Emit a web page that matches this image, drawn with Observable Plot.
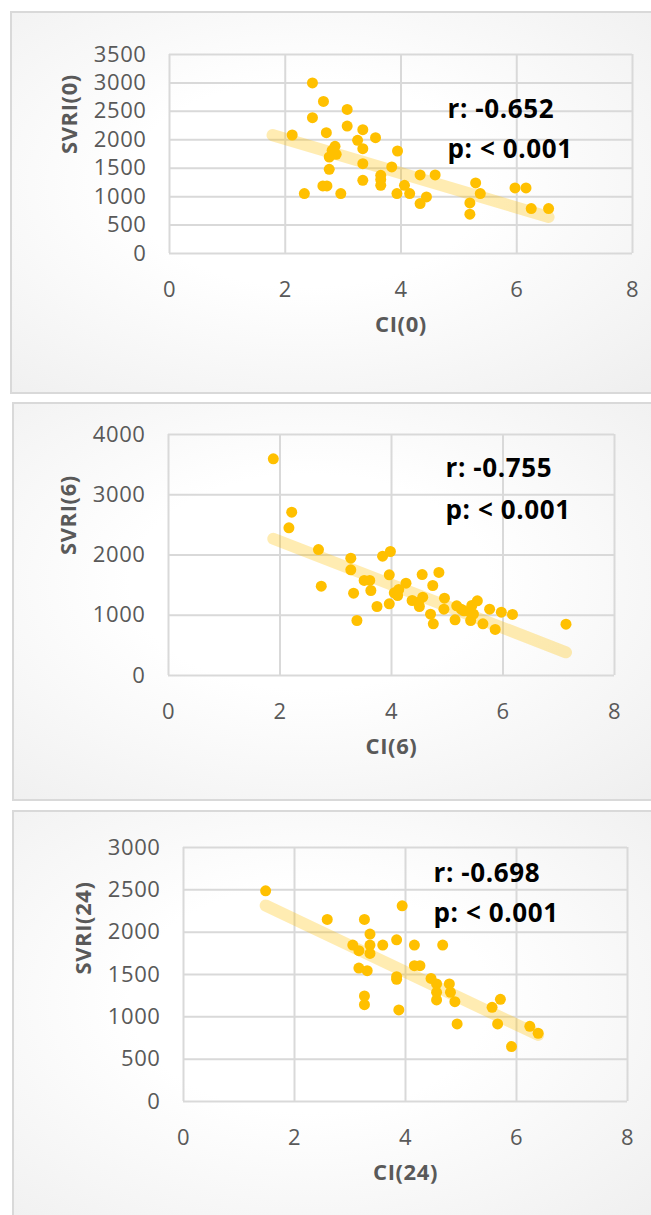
<!DOCTYPE html>
<html>
<head>
<meta charset="utf-8">
<script src="https://cdn.jsdelivr.net/npm/d3@7"></script>
<script src="https://cdn.jsdelivr.net/npm/@observablehq/plot@0.6"></script>
<style>
  html, body { margin: 0; padding: 0; background: #ffffff; }
  body { width: 651px; height: 1215px; overflow: hidden; position: relative; font-family: "Open Sans", sans-serif; }
  .panel { position: absolute; box-sizing: border-box; border: 2px solid #d9d9d9;
    background: radial-gradient(ellipse at 45% 45%, #ffffff 0%, #ffffff 35%, #eeeeee 100%); }
  .chart { position: absolute; left: 0; }
</style>
</head>
<body>
<div class="panel" style="left:10px;top:11px;width:660px;height:383px"></div>
<div class="panel" style="left:12px;top:402px;width:660px;height:399px"></div>
<div class="panel" style="left:12px;top:810px;width:660px;height:420px"></div>
<div id="c1" class="chart" style="top:11px"></div>
<div id="c2" class="chart" style="top:402px"></div>
<div id="c3" class="chart" style="top:810px"></div>
<script>
// ---- Data ----
const xTicks = [0, 2, 4, 6, 8];

// Panel 1: CI(0) vs SVRI(0)
const ci0 = [2.47,2.66,3.07,2.47,3.07,2.12,2.71,3.34,3.56,3.25,3.34,2.86,2.81,2.76,2.88,3.94,3.34,2.76,3.84,3.65,3.65,3.65,4.33,4.59,3.34,2.65,2.72,4.06,2.33,2.96,3.93,4.15,4.44,4.33,5.19,5.19,5.29,5.37,5.97,6.16,6.25,6.55];
const svri0 = [3000,2675,2534,2388,2242,2084,2125,2177,2037,1990,1844,1885,1814,1697,1744,1803,1580,1481,1522,1375,1300,1200,1381,1381,1288,1188,1188,1200,1054,1054,1054,1054,995,878,890,691,1241,1054,1153,1153,790,790];
const yTicks0 = [0,500,1000,1500,2000,2500,3000,3500];
const trend0X = [1.78, 6.55];
const trend0Y = [2082, 642];
const stats0 = ["r: -0.652", "p: < 0.001"];

// Panel 2: CI(6) vs SVRI(6)
const ci6 = [1.88,2.21,2.16,2.69,2.74,3.27,3.27,3.32,3.38,3.51,3.61,3.63,3.74,3.84,3.98,3.96,3.96,4.05,4.13,4.11,4.26,4.37,4.48,4.56,4.55,4.50,4.74,4.85,4.70,4.75,4.95,4.94,5.14,5.17,5.30,5.44,5.54,5.42,5.64,5.76,5.86,5.97,6.17,7.13,5.41,5.25,5.47];
const svri6 = [3596,2711,2451,2091,1483,1948,1754,1367,913,1577,1577,1411,1145,1981,2058,1671,1190,1372,1428,1328,1533,1245,1217,1300,1676,1145,1494,1710,1018,858,1284,1101,924,1156,1073,1162,1239,913,858,1101,764,1051,1013,852,1051,1100,1020];
const yTicks6 = [0,1000,2000,3000,4000];
const trend6X = [1.88, 7.13];
const trend6Y = [2270, 385];
const stats6 = ["r: -0.755", "p: < 0.001"];

// Panel 3: CI(24) vs SVRI(24)
const ci24 = [1.48,2.59,3.26,3.94,3.36,3.05,3.16,3.36,3.36,3.59,3.84,4.16,4.67,3.16,3.31,3.84,3.84,4.16,4.26,4.46,4.56,4.56,4.56,4.79,4.81,4.89,3.26,3.26,3.88,4.93,5.56,5.71,5.66,5.91,6.24,6.39];
const svri24 = [2488,2150,2150,2311,1977,1848,1781,1848,1749,1848,1910,1848,1848,1576,1545,1474,1443,1604,1604,1454,1388,1289,1199,1388,1289,1179,1246,1144,1081,916,1112,1207,916,649,888,806];
const yTicks24 = [0,500,1000,1500,2000,2500,3000];
const trend24X = [1.48, 6.39];
const trend24Y = [2315, 786];
const stats24 = ["r: -0.698", "p: < 0.001"];

// ---- Drawing ----
const GOLD = "#FFC000";
const GREY = "#595959";
const GRID = "#d9d9d9";
const FONT = "'Open Sans', sans-serif";

function makePanel(o) {
  const pts = o.xs.map((x, i) => ({x, y: o.ys[i]}));
  const trend = o.tx.map((x, i) => ({x, y: o.ty[i]}));
  const yMax = o.yTicks[o.yTicks.length - 1];
  return Plot.plot({
    width: 651,
    height: o.height,
    marginLeft: o.ml, marginRight: o.mr, marginTop: o.mt, marginBottom: o.mb,
    style: {background: "transparent", fontFamily: FONT, overflow: "visible", letterSpacing: "0.6px"},
    x: {domain: [0, 8]},
    y: {domain: [0, yMax]},
    marks: [
      Plot.gridX(xTicks, {stroke: GRID, strokeOpacity: 1, strokeWidth: 2}),
      Plot.gridY(o.yTicks, {stroke: GRID, strokeOpacity: 1, strokeWidth: 2}),
      Plot.axisX(xTicks, {tickSize: 0, tickPadding: 28, fontSize: 22, color: GREY, label: null, tickFormat: d => String(d)}),
      Plot.axisY(o.yTicks, {tickSize: 0, tickPadding: 23, fontSize: 22, color: GREY, label: null, tickFormat: d => String(d)}),
      Plot.line(trend, {x: "x", y: "y", stroke: GOLD, strokeOpacity: 0.3, strokeWidth: 12, strokeLinecap: "round"}),
      Plot.dot(pts, {x: "x", y: "y", r: 5.5, fill: GOLD}),
      Plot.text([o.xLabel], {frameAnchor: "bottom", dy: 78, fontSize: 22, fontWeight: "bold", fill: GREY}),
      Plot.text([o.yLabel], {frameAnchor: "left", rotate: -90, dx: -100, fontSize: 22, fontWeight: "bold", fill: GREY}),
      Plot.text([o.stats.join("\n")], {frameAnchor: "top-left", textAnchor: "start", lineAnchor: "top",
        dx: o.tdx, dy: o.tdy, fontSize: 26, fontWeight: "bold", fill: "#000", lineHeight: o.lh})
    ]
  });
}

document.getElementById("c1").append(makePanel({
  xs: ci0, ys: svri0, yTicks: yTicks0, tx: trend0X, ty: trend0Y, stats: stats0,
  xLabel: "CI(0)", yLabel: "SVRI(0)",
  height: 383, ml: 169, mr: 19, mt: 43, mb: 141, tdx: 278, tdy: 35.5, lh: 1.54
}));
document.getElementById("c2").append(makePanel({
  xs: ci6, ys: svri6, yTicks: yTicks6, tx: trend6X, ty: trend6Y, stats: stats6,
  xLabel: "CI(6)", yLabel: "SVRI(6)",
  height: 399, ml: 168, mr: 37, mt: 32, mb: 126, tdx: 277, tdy: 12.5, lh: 1.62
}));
document.getElementById("c3").append(makePanel({
  xs: ci24, ys: svri24, yTicks: yTicks24, tx: trend24X, ty: trend24Y, stats: stats24,
  xLabel: "CI(24)", yLabel: "SVRI(24)",
  height: 405, ml: 183, mr: 24, mt: 37, mb: 114, tdx: 250, tdy: 6.5, lh: 1.54
}));
</script>
</body>
</html>
